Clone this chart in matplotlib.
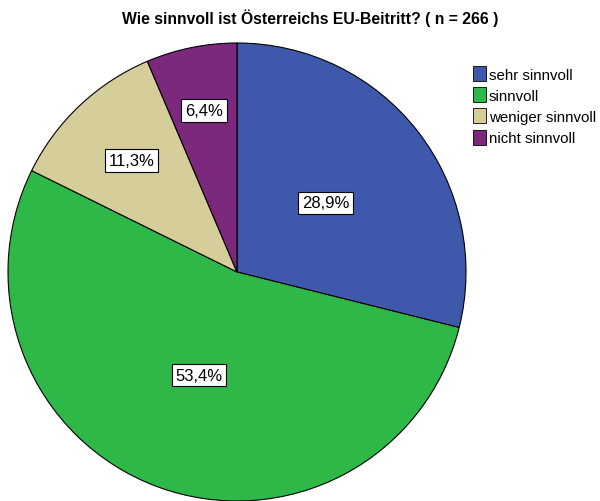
import matplotlib.pyplot as plt
import matplotlib.patches as mpatches
import numpy as np

plt.rcParams['font.family'] = ['Liberation Sans', 'DejaVu Sans']

categories = ['sehr sinnvoll', 'sinnvoll', 'weniger sinnvoll', 'nicht sinnvoll']
shares = [28.9, 53.4, 11.3, 6.4]
labels = ['28,9%', '53,4%', '11,3%', '6,4%']
colors = ['#3E58AC', '#2EB848', '#D5CE9B', '#7C287D']
label_dist = [0.49, 0.48, 0.67, 0.72]

fig = plt.figure(figsize=(6, 5.02), dpi=100)
ax = fig.add_axes([8 / 600, 0 / 502, 458 / 600, 458 / 502])

wedges, _ = ax.pie(shares, colors=colors, startangle=90, counterclock=False,
                   wedgeprops=dict(edgecolor='black', linewidth=0.8))

for w, lab, d in zip(wedges, labels, label_dist):
    mid = np.deg2rad((w.theta1 + w.theta2) / 2)
    ax.text(d * np.cos(mid), d * np.sin(mid), lab, ha='center', va='center',
            fontsize=12,
            bbox=dict(boxstyle='square,pad=0.22', fc='white', ec='black', lw=0.8))

ax.set_xlim(-1, 1)
ax.set_ylim(-1, 1)
ax.set_aspect('equal')

fig.text(310 / 600, 1 - 18 / 502, 'Wie sinnvoll ist Österreichs EU-Beitritt? ( n = 266 )',
         ha='center', va='center', fontsize=11.3, fontweight='bold')

handles = [mpatches.Patch(facecolor=c, edgecolor='black', linewidth=0.6) for c in colors]
fig.legend(handles, categories, loc='upper left', bbox_to_anchor=(473 / 600, 1 - 67 / 502),
           frameon=False, fontsize=10.8, handlelength=0.85, handleheight=1.15,
           handletextpad=0.2, labelspacing=0.38, borderpad=0, borderaxespad=0)

fig.savefig('out.png', dpi=100)
